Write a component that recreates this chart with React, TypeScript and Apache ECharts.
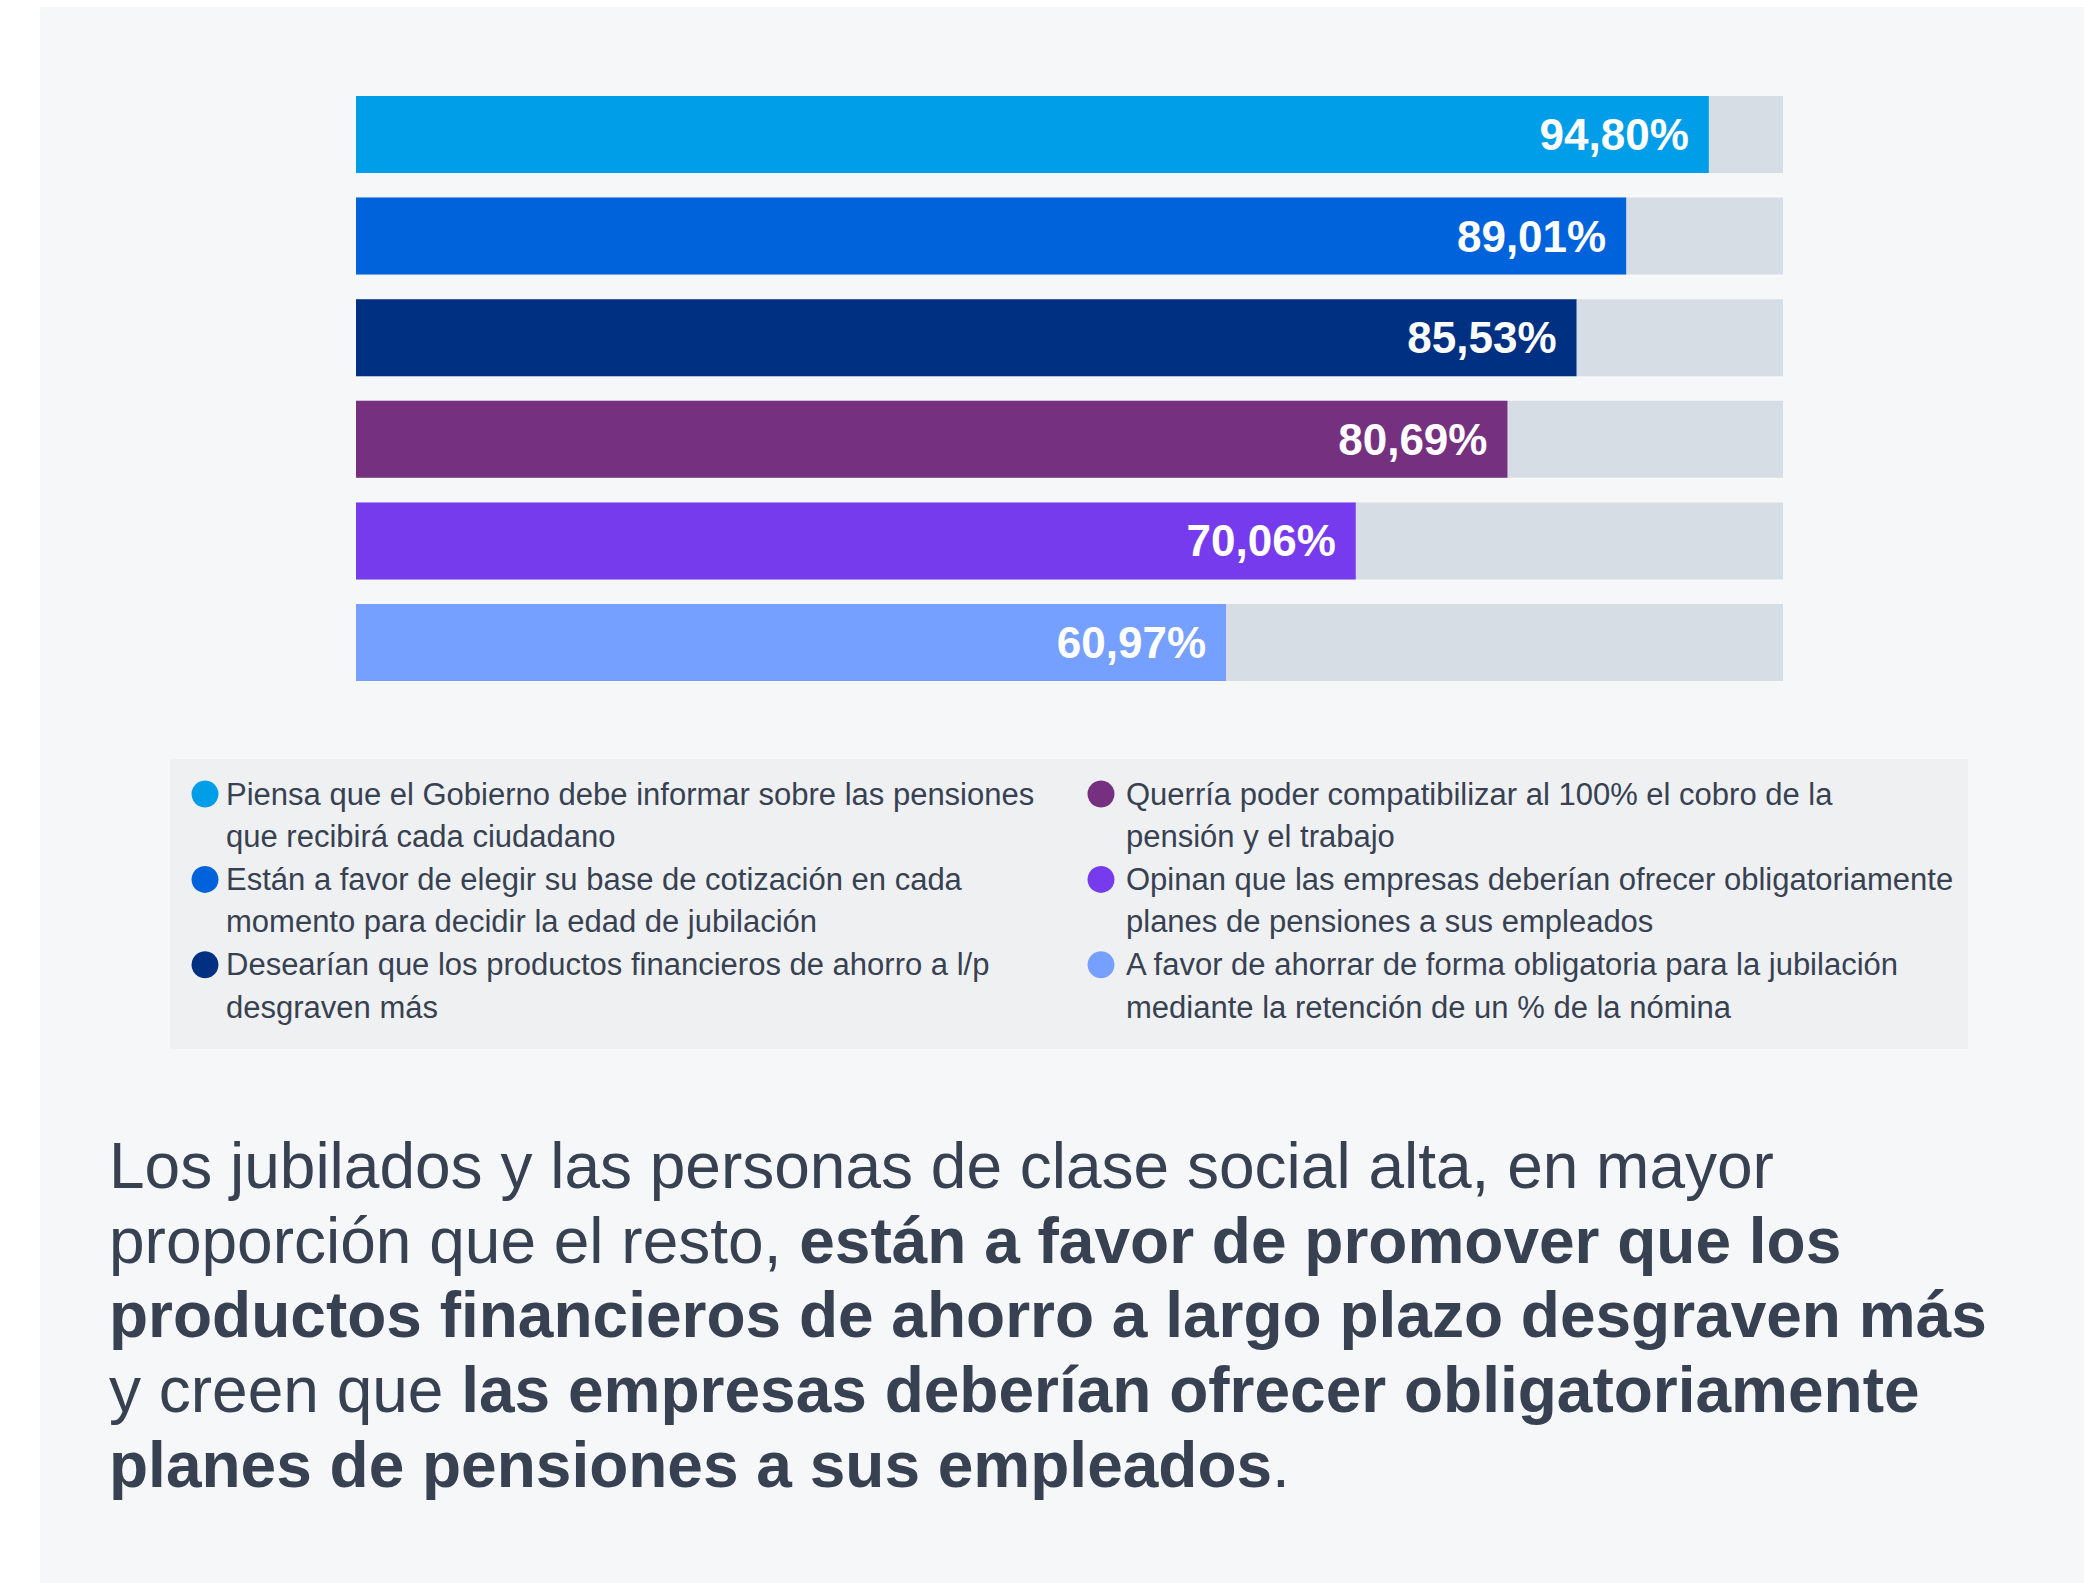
import React, { useEffect, useRef } from "react";
import * as echarts from "echarts";

const categories = [
  "Piensa que el Gobierno debe informar sobre las pensiones que recibirá cada ciudadano",
  "Están a favor de elegir su base de cotización en cada momento para decidir la edad de jubilación",
  "Desearían que los productos financieros de ahorro a l/p desgraven más",
  "Querría poder compatibilizar al 100% el cobro de la pensión y el trabajo",
  "Opinan que las empresas deberían ofrecer obligatoriamente planes de pensiones a sus empleados",
  "A favor de ahorrar de forma obligatoria para la jubilación mediante la retención de un % de la nómina",
];
const values = [94.8, 89.01, 85.53, 80.69, 70.06, 60.97];
const colors = ["#009ee8", "#0063db", "#003082", "#75307f", "#753bed", "#76a0ff"];
const legendLines = [
  ["Piensa que el Gobierno debe informar sobre las pensiones", "que recibirá cada ciudadano"],
  ["Están a favor de elegir su base de cotización en cada", "momento para decidir la edad de jubilación"],
  ["Desearían que los productos financieros de ahorro a l/p", "desgraven más"],
  ["Querría poder compatibilizar al 100% el cobro de la", "pensión y el trabajo"],
  ["Opinan que las empresas deberían ofrecer obligatoriamente", "planes de pensiones a sus empleados"],
  ["A favor de ahorrar de forma obligatoria para la jubilación", "mediante la retención de un % de la nómina"],
];
const paragraph = [
  [["r", "Los jubilados y las personas de clase social alta, en mayor"]],
  [["r", "proporción que el resto, "], ["b", "están a favor de promover que los"]],
  [["b", "productos financieros de ahorro a largo plazo desgraven más"]],
  [["r", "y creen que "], ["b", "las empresas deberían ofrecer obligatoriamente"]],
  [["b", "planes de pensiones a sus empleados"], ["r", "."]],
];

const FONT = "'Liberation Sans', Arial, Helvetica, sans-serif";
const TEXT = "#374151";

export default function App() {
  const ref = useRef<HTMLDivElement>(null);
  useEffect(() => {
    if (!ref.current) return;
    const chart = echarts.init(ref.current, undefined, { renderer: "svg" });

    const graphics: any[] = [
      { type: "rect", z: -10, shape: { x: 40, y: 7, width: 2044, height: 1576 }, style: { fill: "#f6f7f9" } },
      { type: "rect", z: -5, shape: { x: 170, y: 759, width: 1798, height: 290 }, style: { fill: "#eff0f2" } },
    ];
    legendLines.forEach((lines, i) => {
      const col = i < 3 ? 0 : 1;
      const row = i % 3;
      const cx = col === 0 ? 205 : 1101;
      const tx = col === 0 ? 226 : 1126;
      const cy = 794 + row * 85.4;
      graphics.push({
        type: "circle",
        shape: { cx, cy, r: 13.5 },
        style: { fill: colors[i] },
      });
      graphics.push({
        type: "text",
        x: tx,
        y: cy - 21.25,
        style: {
          text: lines.join("\n"),
          fill: TEXT,
          fontSize: 31,
          fontFamily: FONT,
          lineHeight: 42.5,
          verticalAlign: "top",
          align: "left",
        },
      });
    });
    const parText = paragraph
      .map((line) => line.map(([k, t]) => `{${k}|${t}}`).join(""))
      .join("\n");
    graphics.push({
      type: "text",
      x: 109,
      y: 1128.5,
      style: {
        text: parText,
        verticalAlign: "top",
        align: "left",
        rich: {
          r: { fontSize: 64, fontFamily: FONT, fontWeight: "normal", fill: TEXT, lineHeight: 74.7 },
          b: { fontSize: 64, fontFamily: FONT, fontWeight: "bold", fill: TEXT, lineHeight: 74.7 },
        },
      },
    });

    chart.setOption({
      animation: false,
      backgroundColor: "transparent",
      grid: { left: 356, right: 301, top: 83.7, height: 609.6, containLabel: false },
      xAxis: { type: "value", min: 0, max: 100, show: false },
      yAxis: { type: "category", data: categories, inverse: true, show: false },
      graphic: { elements: graphics },
      series: [
        {
          type: "bar",
          barWidth: 77,
          showBackground: true,
          backgroundStyle: { color: "#d7dde5" },
          data: values.map((v, i) => ({ value: v, itemStyle: { color: colors[i] } })),
          label: {
            show: true,
            position: "insideRight",
            distance: 20,
            color: "#ffffff",
            fontWeight: "bold",
            fontSize: 44,
            fontFamily: FONT,
            formatter: (p: any) => p.value.toFixed(2).replace(".", ",") + "%",
          },
        },
      ],
    });
    return () => chart.dispose();
  }, []);
  return (
    <div
      ref={ref}
      style={{ position: "fixed", left: 0, top: 0, width: 2084, height: 1583, background: "#ffffff" }}
    />
  );
}
